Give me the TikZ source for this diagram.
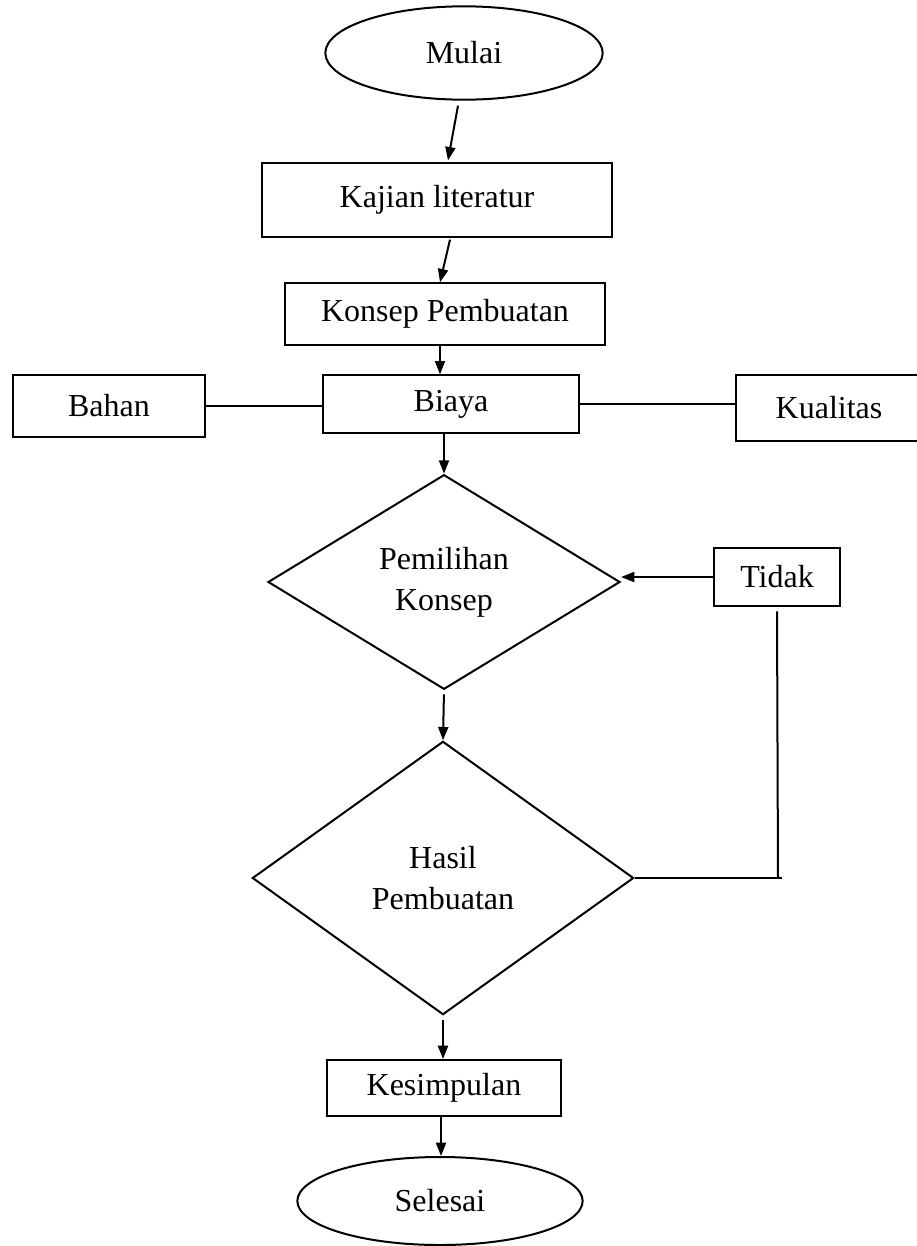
\documentclass[tikz,border=0pt]{standalone}
\usepackage{fontspec}
\setmainfont{Liberation Serif}
\usepackage{tikz}
\usetikzlibrary{arrows.meta, positioning, shapes.geometric, calc}

\begin{document}
\begin{tikzpicture}[x=0.75pt, y=-0.75pt, line width=1.5pt,
    kotak/.style={draw, rectangle, inner sep=0pt, font=\fontsize{24}{31}\selectfont},
    oval/.style={draw, ellipse, inner sep=0pt, font=\fontsize{24}{31}\selectfont},
    keputusan/.style={draw, diamond, inner sep=0pt, align=center, font=\fontsize{24}{31}\selectfont},
    panah/.style={-{Triangle[length=10pt, width=7.5pt]}}]
  \useasboundingbox (0,0) rectangle (917,1246);

  \node[oval, minimum width=208pt, minimum height=70pt] (mulai) at (464,53) {Mulai};
  \node[kotak, minimum width=263pt, minimum height=55pt] (kajian) at (437,200) {Kajian literatur};
  \node[kotak, minimum width=240pt, minimum height=46pt] (konsep) at (445,314) {Konsep Pembuatan};
  \node[kotak, minimum width=192pt, minimum height=43pt] (biaya) at (451,404) {Biaya};
  \node[kotak, minimum width=144pt, minimum height=47pt] (bahan) at (109,406) {Bahan};
  \node[kotak, minimum width=140pt, minimum height=50pt] (kualitas) at (829,408) {Kualitas};
  \node[keputusan, minimum width=264pt, minimum height=161pt] (pilih) at (444,582) {Pemilihan\\Konsep};
  \node[kotak, minimum width=94pt, minimum height=44pt] (tidak) at (777,577) {Tidak};
  \node[keputusan, minimum width=286pt, minimum height=205pt] (hasil) at (443,878) {Hasil\\Pembuatan};
  \node[kotak, minimum width=175pt, minimum height=42pt] (simpul) at (444,1088) {Kesimpulan};
  \node[oval, minimum width=214pt, minimum height=66pt] (selesai) at (440,1201) {Selesai};
  \coordinate (sudut) at (778,878);

  \draw[panah] ($(mulai.south)+(-6,5)$) -- ($(kajian.north)+(11,-2)$);
  \draw[panah] ($(kajian.south)+(13,2)$) -- ($(konsep.north)+(-5,0)$);
  \draw[panah] ($(konsep.south)+(-5,0)$) -- ($(biaya.north)+(-11,0)$);
  \draw (bahan.east) -- (bahan.east -| biaya.west);
  \draw (biaya.east) -- (biaya.east -| kualitas.west);
  \draw[panah] (pilih.north |- biaya.south) -- (pilih.north);
  \draw[panah, shorten <=3pt] (pilih.south) -- (hasil.north);
  \draw[panah, shorten <=3pt] (hasil.south) -- (simpul.north -| hasil.south);
  \draw[panah] ($(simpul.south)+(-3,0)$) -- ($(selesai.north)+(1,0)$);
  \draw[panah] (tidak.west) -- (tidak.west -| pilih.east);
  \draw (tidak.south) ++(0,4) -- (sudut);
  \draw (hasil.east) -- ($(sudut)+(4,0)$);
\end{tikzpicture}
\end{document}
